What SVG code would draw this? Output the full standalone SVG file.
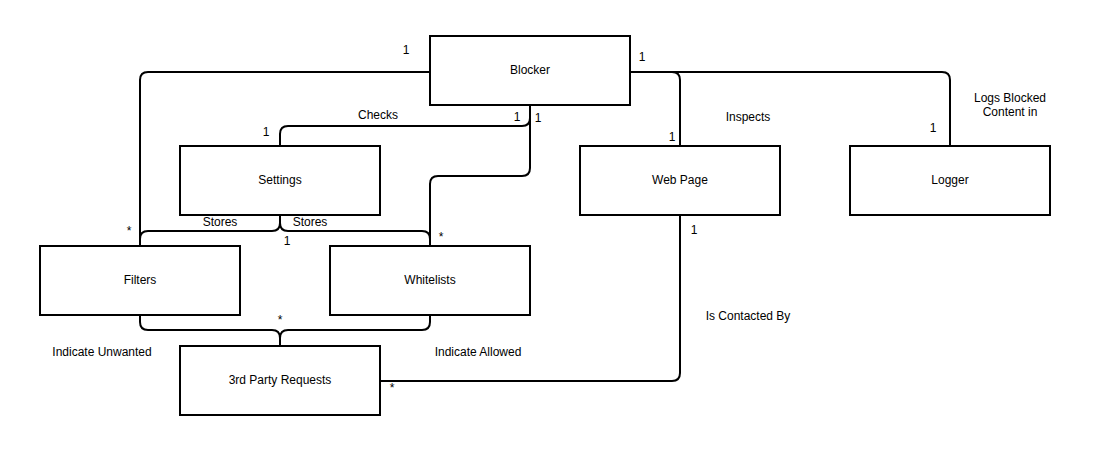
<svg xmlns="http://www.w3.org/2000/svg" width="1120" height="453" viewBox="0 0 1120 453">
<style>
.box{fill:#fff;stroke:#000;stroke-width:2}
.edge{fill:none;stroke:#000;stroke-width:2}
text{font-family:"Liberation Sans",Arial,sans-serif;font-size:12px;fill:#000}
.c{text-anchor:middle;dominant-baseline:central}
</style>
<rect width="1120" height="453" fill="#fff"/>
<g id="connectors">
<path class="edge" d="M430,72 H148 Q140,72 140,80 V246"/>
<path class="edge" d="M530,105 V118 Q530,126 522,126 H288 Q280,126 280,134 V146"/>
<path class="edge" d="M530,105 V168 Q530,176 522,176 H438 Q430,176 430,184 V246"/>
<path class="edge" d="M630,72 H672 Q680,72 680,80 V146"/>
<path class="edge" d="M630,72 H942 Q950,72 950,80 V146"/>
<path class="edge" d="M280,215 V223 Q280,231 272,231 H148 Q140,231 140,239 V246"/>
<path class="edge" d="M280,215 V223 Q280,231 288,231 H422 Q430,231 430,239 V246"/>
<path class="edge" d="M140,315 V322 Q140,330 148,330 H272 Q280,330 280,338 V346"/>
<path class="edge" d="M430,315 V322 Q430,330 422,330 H288 Q280,330 280,338 V346"/>
<path class="edge" d="M680,215 V373 Q680,381 672,381 H380"/>
<text x="406" y="50" class="c">1</text>
<text x="129" y="231" class="c">*</text>
<text x="378" y="115" class="c">Checks</text>
<text x="266" y="132" class="c">1</text>
<text x="517" y="117" class="c">1</text>
<text x="538" y="118" class="c">1</text>
<text x="441" y="237" class="c">*</text>
<text x="642" y="57" class="c">1</text>
<text x="672" y="137" class="c">1</text>
<text x="748" y="117" class="c">Inspects</text>
<text x="933" y="128" class="c">1</text>
<text x="1010" y="98" class="c">Logs Blocked</text>
<text x="1010" y="112" class="c">Content in</text>
<text x="220" y="222" class="c">Stores</text>
<text x="310" y="222" class="c">Stores</text>
<text x="287" y="241" class="c">1</text>
<text x="280" y="320" class="c">*</text>
<text x="102" y="352" class="c">Indicate Unwanted</text>
<text x="478" y="352" class="c">Indicate Allowed</text>
<text x="694" y="230" class="c">1</text>
<text x="392" y="388" class="c">*</text>
<text x="748" y="316" class="c">Is Contacted By</text>
</g>
<g id="blocker"><rect class="box" x="430" y="36" width="200" height="69"/><text x="530" y="70" class="c">Blocker</text></g>
<g id="settings"><rect class="box" x="180" y="146" width="200" height="69"/><text x="280" y="180" class="c">Settings</text></g>
<g id="webpage"><rect class="box" x="580" y="146" width="200" height="69"/><text x="680" y="180" class="c">Web Page</text></g>
<g id="logger"><rect class="box" x="850" y="146" width="200" height="69"/><text x="950" y="180" class="c">Logger</text></g>
<g id="filters"><rect class="box" x="40" y="246" width="200" height="69"/><text x="140" y="280" class="c">Filters</text></g>
<g id="whitelists"><rect class="box" x="330" y="246" width="200" height="69"/><text x="430" y="280" class="c">Whitelists</text></g>
<g id="requests"><rect class="box" x="180" y="346" width="200" height="69"/><text x="280" y="380" class="c">3rd Party Requests</text></g>
</svg>
